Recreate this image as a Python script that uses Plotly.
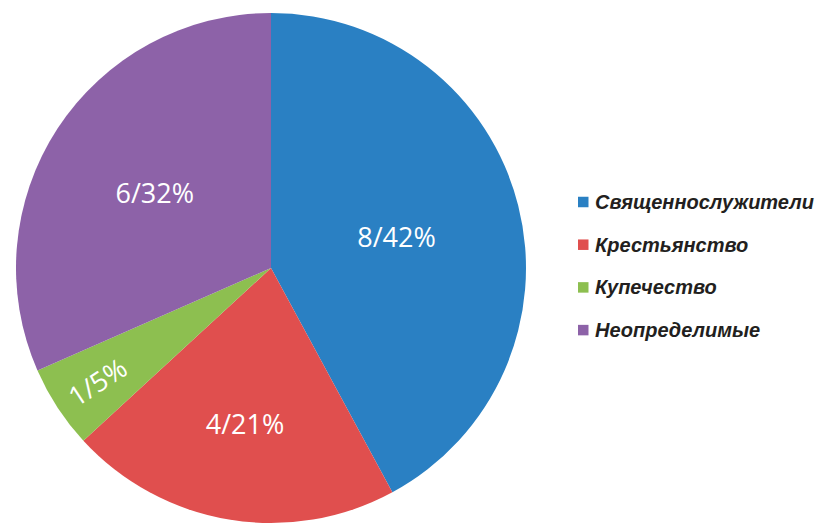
import plotly.graph_objects as go

categories = ["Священнослужители", "Крестьянство", "Купечество", "Неопределимые"]
counts = [8, 4, 1, 6]
colors = ["#2A80C3", "#E04F4E", "#8DBF50", "#8D62A8"]

W, H = 818, 524
total = sum(counts)
text_labels = [f"{c}/{round(100 * c / total)}%" for c in counts]

fig = go.Figure(go.Pie(
    labels=categories,
    values=counts,
    text=text_labels,
    textinfo="text",
    textposition="inside",
    insidetextorientation="auto",
    sort=False,
    direction="clockwise",
    rotation=0,
    marker=dict(colors=colors, line=dict(width=0)),
    textfont=dict(family="Open Sans", size=27, color="white"),
    domain=dict(x=[15 / W, 527 / W], y=[1 / H, 1 - 13 / H]),
    hoverinfo="label+value+percent",
    showlegend=False,
))

# legend drawn as shapes + annotations
legend_x0 = 578
legend_y0 = 202
legend_dy = 42.7
sq = 10.5
for i, (cat, col) in enumerate(zip(categories, colors)):
    yc = legend_y0 + i * legend_dy
    fig.add_shape(type="rect", xref="paper", yref="paper",
                  x0=legend_x0 / W, x1=(legend_x0 + sq) / W,
                  y0=1 - (yc + sq / 2) / H, y1=1 - (yc - sq / 2) / H,
                  fillcolor=col, line=dict(width=0))
    fig.add_annotation(xref="paper", yref="paper",
                       x=593 / W, y=1 - yc / H,
                       xanchor="left", yanchor="middle",
                       text=cat, showarrow=False,
                       font=dict(family="Liberation Sans", size=20, color="#231F20",
                                 weight="bold", style="italic"))

fig.update_layout(
    width=W, height=H,
    margin=dict(l=0, r=0, t=0, b=0),
    paper_bgcolor="white",
    plot_bgcolor="white",
)

fig.write_html("out.html")
